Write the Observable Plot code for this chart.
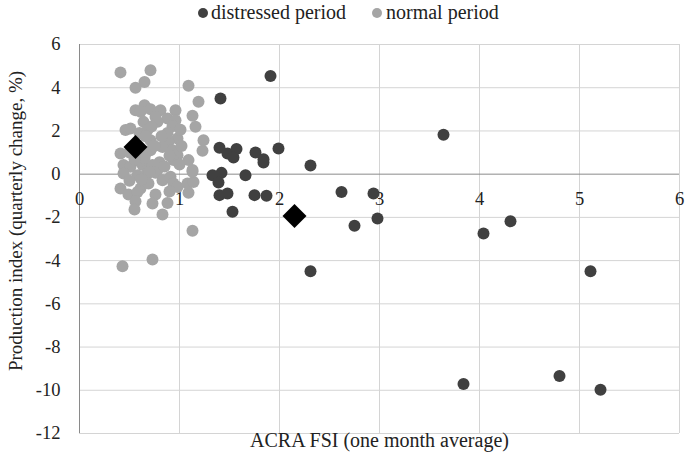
<!DOCTYPE html>
<html>
<head>
<meta charset="utf-8">
<script src="https://cdn.jsdelivr.net/npm/d3@7"></script>
<script src="https://cdn.jsdelivr.net/npm/@observablehq/plot@0.6"></script>
<style>
  body { margin: 0; background: #fff; font-family: 'Liberation Serif', 'DejaVu Serif', serif; }
  #legend { position: relative; width: 685px; height: 28px; font-size: 20px; color: #222; line-height: 24px; }
  #legend .dot { position: absolute; width: 10px; height: 10px; border-radius: 50%; top: 8px; }
  #legend .lab { position: absolute; top: 0px; white-space: nowrap; }
</style>
</head>
<body>
<div id="legend"></div>
<div id="chart"></div>
<script>
// ---- data ----
const seriesNames = ["distressed period", "normal period"];
const seriesColors = ["#404040", "#a5a5a5"];

const distressedX = [1.91, 1.41, 1.40, 1.48, 1.57, 1.54, 1.76, 1.84, 1.84, 1.99, 2.31, 1.33, 1.42, 1.39, 1.66,
  1.40, 1.48, 1.75, 1.87, 1.53, 2.62, 2.94, 2.98, 2.75, 3.64, 4.04, 4.31, 5.11, 2.31, 3.84, 4.80, 5.21];
const distressedY = [4.54, 3.50, 1.22, 0.96, 1.16, 0.77, 1.00, 0.69, 0.54, 1.19, 0.40, -0.05, 0.06, -0.39, -0.05,
  -0.97, -0.89, -0.97, -1.00, -1.74, -0.83, -0.89, -2.05, -2.39, 1.82, -2.75, -2.18, -4.49, -4.49, -9.71, -9.34, -9.98];

const normalX = [0.41, 0.71, 0.65, 0.56, 1.09, 0.65, 0.56, 0.61, 0.71, 0.81, 0.96, 0.76, 0.88, 0.96, 1.19, 1.13,
  1.16, 1.24, 1.23, 0.46, 0.51, 0.64, 0.68, 0.71, 0.93, 0.78, 0.98, 0.89, 0.83, 0.93, 0.98, 0.94, 1.09, 0.41,
  0.44, 0.51, 0.63, 0.73, 0.78, 1.13, 0.66, 0.71,
  0.44, 0.58, 0.68, 0.76, 0.83, 0.91, 0.94, 0.98, 1.08, 1.14, 1.13, 0.41, 0.49, 0.61, 0.58, 0.69, 0.76, 0.56,
  0.73, 0.88, 0.55, 0.83, 1.09, 1.13, 0.43, 0.73,
  0.60, 0.65, 0.80, 0.85, 0.55, 0.70, 0.62, 0.90, 0.50, 0.75, 0.88, 0.72, 0.82, 1.02, 1.00, 0.60, 0.66, 0.50,
  0.90, 1.01];
const normalY = [4.71, 4.81, 4.27, 4.00, 4.09, 3.19, 2.96, 2.89, 3.00, 2.96, 2.96, 2.65, 2.58, 2.50, 3.35, 2.70,
  2.19, 1.57, 1.08, 2.04, 2.11, 2.42, 2.04, 1.57, 2.22, 2.42, 1.65, 1.50, 1.26, 1.11, 0.88, 0.65, 0.65, 0.96,
  0.42, 0.34, 0.42, 0.42, 0.19, 0.19, 0.96, 1.11,
  0.03, -0.05, 0.03, 0.06, -0.28, -0.12, -0.43, -0.59, -0.43, -0.36, 0.11, -0.66, -0.94, -0.66, -0.82, -0.43,
  -0.94, -1.25, -1.36, -1.33, -1.63, -1.87, -0.86, -2.62, -4.26, -3.95,
  0.60, 0.75, 0.55, 0.35, 0.70, 0.10, -0.25, 0.85, 1.00, 1.30, 1.90, 2.20, 1.75, 1.30, 0.45, 1.90, 1.75, -0.30,
  -0.80, 2.05];

const meanX = [0.56, 2.15];
const meanY = [1.26, -1.94];

const xTicks = [0, 1, 2, 3, 4, 5, 6];
const yTicks = [-12, -10, -8, -6, -4, -2, 0, 2, 4, 6];
const xTitle = "ACRA FSI (one month average)";
const yTitle = "Production index (quarterly change, %)";

// ---- build tables ----
const distressed = distressedX.map((x, i) => ({x, y: distressedY[i]}));
const normal = normalX.map((x, i) => ({x, y: normalY[i]}));
const means = meanX.map((x, i) => ({x, y: meanY[i]}));

// ---- legend ----
const legend = document.getElementById("legend");
const legendPos = [{dot: 198, lab: 211}, {dot: 372, lab: 386}];
seriesNames.forEach((name, i) => {
  const d = document.createElement("span");
  d.className = "dot";
  d.style.left = legendPos[i].dot + "px";
  d.style.background = seriesColors[i];
  legend.appendChild(d);
  const t = document.createElement("span");
  t.className = "lab";
  t.style.left = legendPos[i].lab + "px";
  t.textContent = name;
  legend.appendChild(t);
});

// ---- chart ----
const FF = "'Liberation Serif', 'DejaVu Serif', serif";
const chart = Plot.plot({
  width: 685,
  height: 432,
  marginLeft: 79,
  marginRight: 6,
  marginTop: 16,
  marginBottom: 27,
  style: {fontFamily: FF, fontSize: "18px", color: "#222", background: "#fff", overflow: "visible"},
  x: {domain: [0, 6], axis: null},
  y: {domain: [-12, 6], axis: null},
  marks: [
    Plot.ruleX(xTicks.filter(d => d !== 0), {stroke: "#d4d4d4", strokeWidth: 1}),
    Plot.ruleY(yTicks.filter(d => d !== 0), {stroke: "#d4d4d4", strokeWidth: 1}),
    Plot.ruleX([0], {stroke: "#8a8a8a", strokeWidth: 1}),
    Plot.ruleY([0], {stroke: "#8a8a8a", strokeWidth: 1}),
    Plot.axisY(yTicks, {tickSize: 0, tickPadding: 19, label: null, fontSize: 18.5, fontFamily: FF, tickFormat: d => String(d)}),
    Plot.text(xTicks, {x: d => d, y: () => 0, dy: 25, text: d => String(d), fontSize: 18.5, fontFamily: FF}),
    Plot.dot(distressed, {x: "x", y: "y", r: 6, fill: seriesColors[0], stroke: "none"}),
    Plot.dot(normal, {x: "x", y: "y", r: 6, fill: seriesColors[1], stroke: "none"}),
    Plot.dot(means, {x: "x", y: "y", r: 10.8, symbol: "diamond2", fill: "#000", stroke: "none"}),
    Plot.text([xTitle], {frameAnchor: "bottom", textAnchor: "middle", dy: 13, text: d => d, fontSize: 20, fontFamily: FF}),
    Plot.text([yTitle], {frameAnchor: "left", textAnchor: "middle", rotate: -90, dx: -64, dy: -18, text: d => d, fontSize: 19, fontFamily: FF})
  ]
});
document.getElementById("chart").appendChild(chart);
</script>
</body>
</html>
